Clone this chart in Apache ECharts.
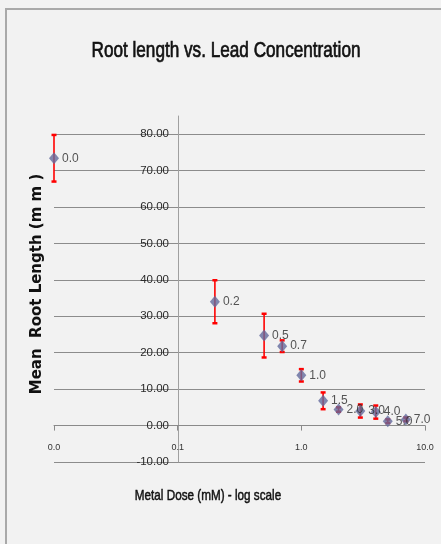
<!DOCTYPE html>
<html><head><meta charset="utf-8">
<script src="https://cdn.jsdelivr.net/npm/echarts@6/dist/echarts.min.js"></script>
<style>
html,body{margin:0;padding:0;background:#f4f4f4;}
#wrap{position:relative;width:441px;height:544px;overflow:hidden;}
#chart{position:absolute;left:0;top:0;width:441px;height:544px;}
#border{position:absolute;left:5px;top:8px;width:600px;height:700px;border-left:2px solid #a9a9a9;border-top:2px solid #a9a9a9;pointer-events:none;}
</style></head>
<body><div id="wrap"><div id="chart"></div><div id="border"></div></div>
<script>
// Data
const doseX = [0.01, 0.2, 0.5, 0.7, 1, 1.5, 2, 3, 4, 5, 7];
const doseLabels = ['0.0','0.2','0.5','0.7','1.0','1.5','2.0','3.0','4.0','5.0','7.0'];
const meanLength = [73.4, 34.0, 24.7, 21.8, 13.8, 6.8, 4.4, 4.0, 3.7, 1.2, 1.7];
const errLength = [6.4, 5.9, 6.0, 1.6, 1.7, 2.3, 0.6, 1.8, 1.8, 0.5, 0.5];
const yTicks = [-10, 0, 10, 20, 30, 40, 50, 60, 70, 80];

const FONT = '"Liberation Sans", Arial, sans-serif';
const chart = echarts.init(document.getElementById('chart'), null, {renderer:'canvas'});
const pts = doseX.map((x,i)=>[x, meanLength[i], errLength[i], doseLabels[i]]);
chart.setOption({
  backgroundColor: '#f2f2f2',
  animation: false,
  graphic: [
    {type:'text', x:226, y:51, scaleX:0.78,
     style:{text:'Root length vs. Lead Concentration', font:'22px "Liberation Sans", sans-serif', fill:'#111', align:'center', verticalAlign:'middle', stroke:'#111', lineWidth:0.7}},
    {type:'text', x:208, y:496, scaleX:0.78,
     style:{text:'Metal Dose (mM) - log scale', font:'15px "Liberation Sans", sans-serif', fill:'#111', align:'center', verticalAlign:'middle', stroke:'#111', lineWidth:0.5}},
    {type:'text', x:37, y:284, rotation:Math.PI/2,
     style:{text:'Mean  Root Length (m m )', font:'bold 15px "DejaVu Sans", sans-serif', fill:'#111', align:'center', verticalAlign:'middle'}}
  ],
  grid: {left:54, right:16, top:116, bottom:82},
  xAxis: {type:'log', logBase:10, min:0.01, max:10,
    axisLine:{onZero:true, lineStyle:{color:'#8a8a8a', width:1}},
    axisTick:{show:true, length:5, lineStyle:{color:'#8a8a8a'}},
    axisLabel:{margin:-19, fontFamily:FONT, fontSize:9, color:'#333', formatter:v=>v.toFixed(1)},
    splitLine:{show:false}},
  yAxis: {type:'value', min:-10, max:85, interval:10, offset:-124,
    axisLine:{show:true, lineStyle:{color:'#a0a0a0', width:1}},
    axisTick:{show:false},
    axisLabel:{margin:9, fontFamily:FONT, fontSize:11.5, color:'#2a2a2a', showMaxLabel:false,
      formatter:v=> yTicks.indexOf(v)>=0 ? v.toFixed(2) : ''},
    splitLine:{show:true, showMaxLine:false, lineStyle:{color:'#8c8c8c', width:1}}},
  series: [
    {type:'custom', data:pts, z:2,
     renderItem:(params, api)=>{
       const x = api.value(0), m = api.value(1), e = api.value(2);
       const top = api.coord([x, m+e]);
       const bot = api.coord([x, m-e]);
       const st = {stroke:'#ff0000', lineWidth:1.6};
       return {type:'group', children:[
         {type:'line', shape:{x1:top[0], y1:top[1], x2:bot[0], y2:bot[1]}, style:st},
         {type:'line', shape:{x1:top[0]-2.5, y1:top[1], x2:top[0]+2.5, y2:top[1]}, style:{stroke:'#ff0000', lineWidth:2.5}},
         {type:'line', shape:{x1:bot[0]-2.5, y1:bot[1], x2:bot[0]+2.5, y2:bot[1]}, style:{stroke:'#ff0000', lineWidth:2.5}}
       ]};
     }},
    {type:'scatter', data:pts, z:3, symbol:'diamond', symbolSize:[10,12],
     itemStyle:{color:'#636a9c'},
     label:{show:true, position:'right', distance:3, fontFamily:FONT, fontSize:12, color:'#2a2a2a',
       formatter:p=>p.value[3]}}
  ]
});
</script></body></html>
